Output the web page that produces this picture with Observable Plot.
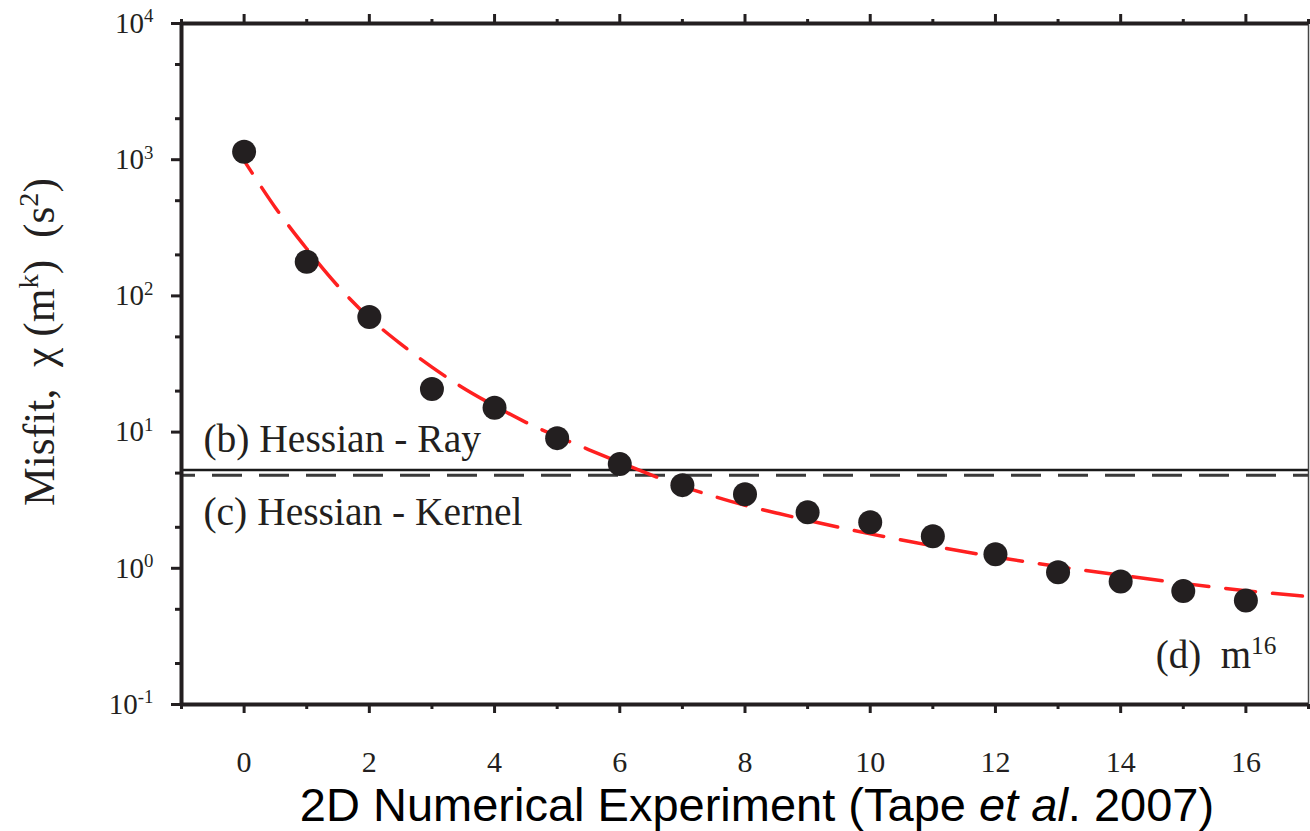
<!DOCTYPE html>
<html><head><meta charset="utf-8">
<script src="https://cdn.jsdelivr.net/npm/d3@7"></script>
<script src="https://cdn.jsdelivr.net/npm/@observablehq/plot@0.6"></script>
<style>
html,body{margin:0;padding:0;background:#fff;}
#chart svg{display:block;}
</style></head><body><div id="chart"></div>
<script>
// ---- data ----
const experiment = [0,1,2,3,4,5,6,7,8,9,10,11,12,13,14,15,16];
const misfit = [1145,178,70.1,20.7,15.1,9.03,5.82,4.08,3.50,2.58,2.18,1.72,1.27,0.935,0.80,0.68,0.58];
const fitX = [0,0.5,1,1.5,2,2.5,3,3.5,4,4.5,5,5.5,6,6.5,7,7.5,8,8.5,9,9.5,10,11,12,13,14,15,16,17];
const fitY = [984,444,222,118,69,44.4,30,21.1,15.6,11.8,9.3,7.45,6.0,4.85,4.0,3.38,2.9,2.55,2.25,2.0,1.79,1.46,1.21,1.03,0.89,0.775,0.685,0.62];
const hessianRay = [5.26];
const hessianKernel = [4.83];
const yTicks = [0.1,1,10,100,1000,10000];
const yTickLabels = ["10^{-1}","10^{0}","10^{1}","10^{2}","10^{3}","10^{4}"];
const yMinorTicks = [0.2,0.5,2,5,20,50,200,500,2000,5000];
const xTicks = [0,2,4,6,8,10,12,14,16];
const xMinorTicks = [-1,1,3,5,7,9,11,13,15,17];
const xTitle = "2D Numerical Experiment (Tape *et al*. 2007)";
const yTitle = "Misfit,\u00a0\u00a0\u03c7\u00a0(m^{k})\u00a0\u00a0(s^{2})";
const labelRay = "(b) Hessian - Ray";
const labelKernel = "(c) Hessian - Kernel";
const labelModel = "(d)\u00a0\u00a0m^{16}";

const points = experiment.map((x, i) => ({x, y: misfit[i]}));
const fit = fitX.map((x, i) => ({x, y: fitY[i]}));

const ink = "#231f20";
const serif = "'Liberation Serif', 'Times New Roman', serif";

const chart = Plot.plot({
  width: 1310, height: 831,
  marginTop: 23, marginBottom: 127, marginLeft: 181, marginRight: 2,
  x: {domain: [-1, 17]},
  y: {type: "log", domain: [0.1, 10000]},
  style: {fontFamily: serif, fontSize: "29px", color: ink, background: "#fff", overflow: "visible"},
  marks: [
    Plot.ruleY(hessianKernel, {stroke: "#3a3a3a", strokeWidth: 3, strokeDasharray: "30,17", strokeDashoffset: 16}),
    Plot.ruleY(hessianRay, {stroke: "#1a1a1a", strokeWidth: 2.5}),
    Plot.line(fit, {x: "x", y: "y", stroke: "#ff2020", strokeWidth: 3.5, strokeDasharray: "30,17", strokeDashoffset: 15, curve: "catmull-rom"}),
    Plot.dot(points, {x: "x", y: "y", r: 12, fill: ink, stroke: "none"}),
    // frame
    Plot.ruleX([-1], {stroke: ink, strokeWidth: 4}),
    Plot.ruleX([17], {stroke: "#444", strokeWidth: 1.5}),
    Plot.ruleY([0.1], {stroke: ink, strokeWidth: 4}),
    Plot.ruleY([10000], {stroke: ink, strokeWidth: 4}),
    // axes
    Plot.axisY(yTicks, {anchor: "left", tickSize: 10, tickPadding: 18, strokeWidth: 3, stroke: ink, fill: ink, fontSize: 29,
      tickFormat: d => yTickLabels[yTicks.indexOf(d)], label: null}),
    Plot.axisY(yMinorTicks, {anchor: "left", tickSize: 6, strokeWidth: 3, stroke: ink, tickFormat: () => "", label: null}),
    Plot.axisX(xTicks, {anchor: "bottom", tickSize: 9, tickPadding: 37, strokeWidth: 3, stroke: ink, fill: ink, fontSize: 30, label: null}),
    Plot.axisX(xMinorTicks, {anchor: "bottom", tickSize: 5, strokeWidth: 3, stroke: ink, tickFormat: () => "", label: null}),
    Plot.axisX(xTicks, {anchor: "top", tickSize: 10, strokeWidth: 3, stroke: ink, tickFormat: () => "", label: null}),
    Plot.axisX(xMinorTicks, {anchor: "top", tickSize: 5, strokeWidth: 3, stroke: ink, tickFormat: () => "", label: null}),
    // annotations
    Plot.text([labelRay], {x: -0.65, y: 7.15, text: d => d, textAnchor: "start", lineAnchor: "bottom", fontSize: 39.5, fill: ink}),
    Plot.text([labelKernel], {x: -0.65, y: 2.09, text: d => d, textAnchor: "start", lineAnchor: "bottom", fontSize: 39.5, fill: ink}),
    Plot.text([labelModel], {x: 14.56, y: 0.186, text: d => d, textAnchor: "start", lineAnchor: "bottom", fontSize: 39, fill: ink}),
    // axis titles
    Plot.text([yTitle], {frameAnchor: "left", text: d => d, rotate: -90, textAnchor: "middle", lineAnchor: "bottom", dx: -128, dy: -22, fontSize: 43.5, fill: ink}),
    Plot.text([xTitle], {frameAnchor: "bottom", text: d => d, textAnchor: "middle", lineAnchor: "bottom", dx: 12, dy: 116, fontSize: 47, fill: "#000", fontFamily: "'Liberation Sans', Arial, sans-serif"})
  ]
});

// rich text: ^{...} superscript, *...* italic
const RAISE = 0.36;
chart.querySelectorAll("text").forEach(t => {
  const s = t.textContent;
  if (!/\^\{|\*/.test(s)) return;
  const parts = s.split(/(\^\{[^}]*\}|\*[^*]+\*)/).filter(p => p !== "");
  while (t.firstChild) t.removeChild(t.firstChild);
  const NS = "http://www.w3.org/2000/svg";
  let raised = false;
  for (const p of parts) {
    const ts = document.createElementNS(NS, "tspan");
    if (p.startsWith("^{")) {
      ts.textContent = p.slice(2, -1);
      ts.setAttribute("font-size", "65%");
      ts.setAttribute("dy", (-RAISE / 0.65).toFixed(3) + "em");
      raised = true;
    } else {
      if (p.startsWith("*")) { ts.textContent = p.slice(1, -1); ts.setAttribute("font-style", "italic"); }
      else ts.textContent = p;
      if (raised) { ts.setAttribute("dy", RAISE + "em"); raised = false; }
    }
    t.appendChild(ts);
  }
});

document.getElementById("chart").appendChild(chart);
</script></body></html>
